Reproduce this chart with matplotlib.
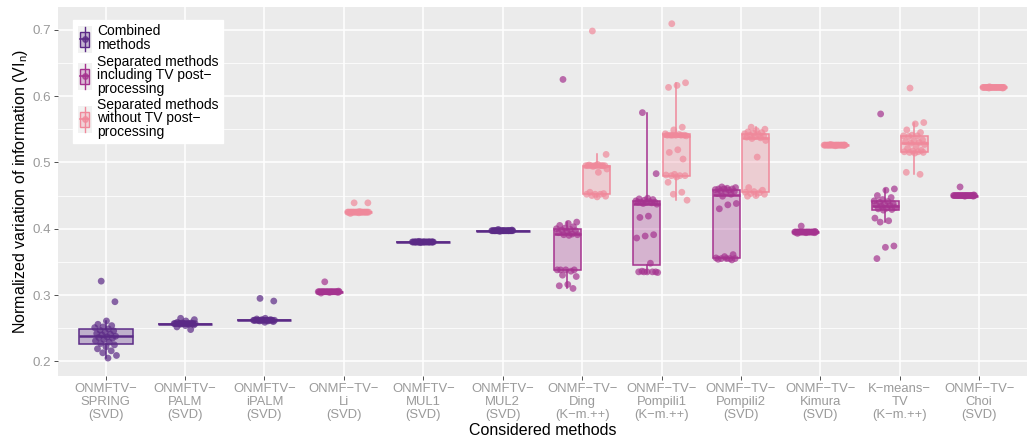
import numpy as np
import matplotlib
matplotlib.use("Agg")
import matplotlib.pyplot as plt
from matplotlib.colors import to_rgba
from matplotlib.legend_handler import HandlerBase
from matplotlib.patches import Rectangle
from matplotlib.lines import Line2D

plt.rcParams['font.family'] = ['Liberation Sans', 'DejaVu Sans']

# x-axis categories
categories = [
    "ONMFTV\u2212\nSPRING\n(SVD)", "ONMFTV\u2212\nPALM\n(SVD)", "ONMFTV\u2212\niPALM\n(SVD)",
    "ONMF\u2212TV\u2212\nLi\n(SVD)", "ONMFTV\u2212\nMUL1\n(SVD)", "ONMFTV\u2212\nMUL2\n(SVD)",
    "ONMF\u2212TV\u2212\nDing\n(K\u2212m.++)", "ONMF\u2212TV\u2212\nPompili1\n(K\u2212m.++)",
    "ONMF\u2212TV\u2212\nPompili2\n(SVD)", "ONMF\u2212TV\u2212\nKimura\n(SVD)",
    "K\u2212means\u2212\nTV\n(K\u2212m.++)", "ONMF\u2212TV\u2212\nChoi\n(SVD)",
]

# VI_n values per run
spring = [0.321, 0.290, 0.261, 0.256, 0.254, 0.252, 0.251, 0.249, 0.247, 0.246, 0.244, 0.242,
          0.241, 0.240, 0.238, 0.237, 0.236, 0.235, 0.233, 0.231, 0.229, 0.227, 0.225, 0.222,
          0.219, 0.216, 0.213, 0.209, 0.205]
palm = [0.265, 0.263, 0.261, 0.259, 0.258, 0.258] + [0.257] * 14 + [0.256, 0.256, 0.255, 0.254, 0.252, 0.248]
ipalm = [0.295, 0.291, 0.265, 0.264, 0.263, 0.263] + [0.262] * 14 + [0.261, 0.261, 0.260, 0.259]
li_tv = [0.320, 0.306] + [0.305] * 20 + [0.304, 0.304, 0.303]
li_notv = [0.439, 0.439, 0.426] + [0.425] * 20 + [0.424, 0.423]
mul1 = [0.381] + [0.380] * 25 + [0.379]
mul2 = [0.399, 0.398] + [0.397] * 24 + [0.396]
ding_tv = [0.625, 0.410, 0.408, 0.405, 0.403, 0.401, 0.400, 0.399, 0.398, 0.397, 0.396, 0.394,
           0.392, 0.391, 0.391, 0.390, 0.338, 0.338, 0.338, 0.338, 0.336, 0.330, 0.328, 0.316,
           0.314, 0.310]
ding_notv = [0.698, 0.512, 0.497, 0.496] + [0.495] * 9 + [0.494, 0.490, 0.485, 0.455, 0.453,
             0.452, 0.452, 0.452, 0.450, 0.449, 0.448]
pompili1_tv = [0.575, 0.483, 0.446, 0.445, 0.444, 0.443, 0.442, 0.441, 0.440, 0.440, 0.440,
               0.440, 0.439, 0.438, 0.437, 0.419, 0.417, 0.391, 0.389, 0.386, 0.348, 0.336,
               0.335, 0.335, 0.335, 0.335, 0.335, 0.334]
pompili1_notv = [0.709, 0.620, 0.616, 0.613, 0.553, 0.549, 0.543, 0.542] + [0.541] * 6 + [
                 0.540, 0.519, 0.515, 0.505, 0.482, 0.481, 0.480, 0.480, 0.480, 0.478, 0.470,
                 0.455, 0.452, 0.443]
pompili2_tv = [0.463, 0.462, 0.461, 0.460, 0.460, 0.460, 0.459, 0.458, 0.457, 0.456, 0.455,
               0.453, 0.452, 0.449, 0.438, 0.436, 0.430, 0.361, 0.358, 0.356, 0.355, 0.355,
               0.355, 0.355, 0.354, 0.353]
pompili2_notv = [0.553, 0.550, 0.548, 0.546, 0.545, 0.544, 0.543, 0.542, 0.541, 0.540, 0.539,
                 0.538, 0.537, 0.536, 0.533, 0.508, 0.462, 0.458, 0.456, 0.455, 0.454, 0.453,
                 0.452, 0.450, 0.449]
kimura_tv = [0.404, 0.396] + [0.395] * 20 + [0.394, 0.394, 0.393]
kimura_notv = [0.527] + [0.526] * 22 + [0.525]
kmeans_tv = [0.573, 0.460, 0.458, 0.450, 0.447, 0.444, 0.442, 0.441, 0.440, 0.438, 0.437, 0.436,
             0.435, 0.434, 0.432, 0.431, 0.430, 0.429, 0.428, 0.416, 0.412, 0.410, 0.374, 0.372,
             0.355]
kmeans_notv = [0.612, 0.560, 0.558, 0.549, 0.545, 0.541, 0.540, 0.540, 0.539, 0.534, 0.532,
               0.531, 0.530, 0.529, 0.527, 0.524, 0.521, 0.518, 0.517, 0.516, 0.516, 0.515,
               0.515, 0.514, 0.485, 0.482]
choi_tv = [0.463, 0.451] + [0.450] * 20 + [0.449, 0.449]
choi_notv = [0.614] + [0.613] * 20 + [0.612, 0.612]

# (category index, group, values)
series = [
    (0, "comb", spring), (1, "comb", palm), (2, "comb", ipalm),
    (3, "tv", li_tv), (3, "notv", li_notv),
    (4, "comb", mul1), (5, "comb", mul2),
    (6, "tv", ding_tv), (6, "notv", ding_notv),
    (7, "tv", pompili1_tv), (7, "notv", pompili1_notv),
    (8, "tv", pompili2_tv), (8, "notv", pompili2_notv),
    (9, "tv", kimura_tv), (9, "notv", kimura_notv),
    (10, "tv", kmeans_tv), (10, "notv", kmeans_notv),
    (11, "tv", choi_tv), (11, "notv", choi_notv),
]

colors = {"comb": "#5B2A86", "tv": "#A5338F", "notv": "#F0899B"}
offsets = {"comb": 0.0, "tv": -0.185, "notv": 0.185}
widths = {"comb": 0.68, "tv": 0.34, "notv": 0.34}
labels = {
    "comb": "Combined\nmethods",
    "tv": "Separated methods\nincluding TV post\u2212\nprocessing",
    "notv": "Separated methods\nwithout TV post\u2212\nprocessing",
}

fig, ax = plt.subplots(figsize=(10.32, 4.45), dpi=100)
fig.subplots_adjust(left=0.0562, right=0.995, top=0.984, bottom=0.155)
ax.set_facecolor("#EBEBEB")

for idx, grp, vals in series:
    c = colors[grp]
    pos = idx + 1 + offsets[grp]
    ax.boxplot([vals], positions=[pos], widths=widths[grp], patch_artist=True,
               showfliers=False, showcaps=False, whis=1.5, zorder=3,
               boxprops=dict(facecolor=to_rgba(c, 0.3), edgecolor=c, linewidth=1.1),
               medianprops=dict(color=c, linewidth=1.8),
               whiskerprops=dict(color=c, linewidth=1.1))
    # deterministic jitter
    n = len(vals)
    jit = ((np.arange(n) * 0.618034 + 0.3) % 1.0 - 0.5) * 2 * 0.14
    ax.scatter(pos + jit, vals, s=24, color=c, alpha=0.7, edgecolors="none", zorder=4)

ax.set_xlim(0.4, 12.6)
ax.set_ylim(0.178, 0.734)
ax.set_xticks(np.arange(1, 13))
ax.set_xticklabels(categories, fontsize=9.4, color="#9A9A9A", linespacing=1.12)
ax.set_yticks([0.2, 0.3, 0.4, 0.5, 0.6, 0.7])
ax.set_yticklabels(["0.2", "0.3", "0.4", "0.5", "0.6", "0.7"], fontsize=9.6, color="#9A9A9A")
ax.set_yticks([0.25, 0.35, 0.45, 0.55, 0.65], minor=True)
ax.tick_params(axis="both", which="major", length=3, width=0.6, color="#333333", pad=2)
ax.tick_params(axis="y", which="minor", length=0)
ax.grid(True, which="major", color="white", linewidth=1.1, zorder=0)
ax.grid(True, which="minor", axis="y", color="white", linewidth=0.55, zorder=0)
ax.set_axisbelow(True)
for s in ax.spines.values():
    s.set_visible(False)

ax.set_xlabel("Considered methods", fontsize=11.5, labelpad=1)
ax.set_ylabel(r"Normalized variation of information (VI$_\mathregular{n}$)", fontsize=11.5, labelpad=2)


class BoxKey(HandlerBase):
    def __init__(self, color):
        super().__init__()
        self.color = color

    def create_artists(self, legend, orig_handle, xdescent, ydescent, width, height, fontsize, trans):
        c = self.color
        x0, y0 = -xdescent, -ydescent
        bg = Rectangle((x0, y0), width, height, facecolor="#F2F2F2", edgecolor="none", transform=trans)
        cx = x0 + width / 2
        cy = y0 + height / 2
        wh = Line2D([cx, cx], [y0 + height * 0.05, y0 + height * 0.95], color=c, lw=1, transform=trans)
        box = Rectangle((cx - width * 0.32, y0 + height * 0.22), width * 0.64, height * 0.56,
                        facecolor=to_rgba(c, 0.3), edgecolor=c, lw=1, transform=trans)
        med = Line2D([cx - width * 0.32, cx + width * 0.32], [cy, cy], color=c, lw=1.2, transform=trans)
        dot = Line2D([cx], [cy], marker="o", markersize=4, color=c, alpha=0.7, lw=0, transform=trans)
        return [bg, wh, box, med, dot]


handles = [Rectangle((0, 0), 1, 1) for _ in range(3)]
leg = ax.legend(handles, [labels["comb"], labels["tv"], labels["notv"]],
                handler_map={h: BoxKey(colors[g]) for h, g in zip(handles, ["comb", "tv", "notv"])},
                loc="upper left", bbox_to_anchor=(0.016, 0.965), fontsize=10,
                handlelength=1.0, handleheight=2.6, handletextpad=0.4, labelspacing=0.15,
                frameon=True, fancybox=False, framealpha=1, edgecolor="white",
                borderpad=0.3, borderaxespad=0)
for t in leg.get_texts():
    t.set_linespacing(0.95)

fig.savefig("out.png", dpi=100)
